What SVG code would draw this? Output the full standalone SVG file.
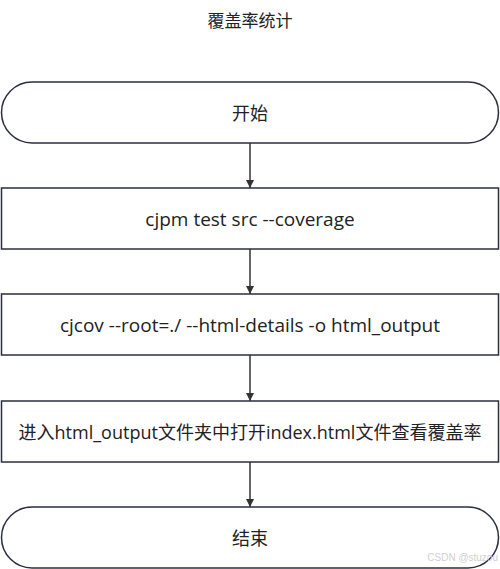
<svg xmlns="http://www.w3.org/2000/svg" width="500" height="569" viewBox="0 0 500 569">
<style>
.n{fill:#fff;stroke:#2b2f3f;stroke-width:1.5}
.t{font-family:"Open Sans","Noto Sans CJK SC",sans-serif;font-size:18px;fill:#222;text-anchor:middle;dominant-baseline:central}
.l{font-size:19px}
.e{stroke:#333;stroke-width:1.5;fill:none}
</style>
<defs>
<marker id="a" viewBox="0 0 10 10" refX="10" refY="5" markerWidth="8" markerHeight="8" markerUnits="userSpaceOnUse" orient="auto">
<path d="M0,0 L10,5 L0,10 z" fill="#333"/>
</marker>
</defs>
<rect width="500" height="569" fill="#fff"/>
<text id="title" class="t" x="250" y="20" style="font-size:17px">覆盖率统计</text>
<g id="n1"><rect class="n" x="1.5" y="82" width="497" height="61" rx="30.5"/><text class="t" x="250" y="113">开始</text></g>
<g id="n2"><rect class="n" x="1.5" y="188" width="497" height="61"/><text class="t l" x="250" y="218.5">cjpm test src --coverage</text></g>
<g id="n3"><rect class="n" x="1.5" y="294" width="497" height="61"/><text class="t l" x="250" y="325">cjcov --root=./ --html-details -o html_output</text></g>
<g id="n4"><rect class="n" x="1.5" y="401" width="497" height="61"/><text class="t" x="250" y="432">进入html_output文件夹中打开index.html文件查看覆盖率</text></g>
<g id="n5"><rect class="n" x="1.5" y="507" width="497" height="61" rx="30.5"/><text class="t" x="250" y="538">结束</text></g>
<g id="edges">
<line class="e" x1="250" y1="143" x2="250" y2="188" marker-end="url(#a)"/>
<line class="e" x1="250" y1="249" x2="250" y2="294" marker-end="url(#a)"/>
<line class="e" x1="250" y1="355" x2="250" y2="401" marker-end="url(#a)"/>
<line class="e" x1="250" y1="462" x2="250" y2="507" marker-end="url(#a)"/>
</g>
<text x="498" y="561" style="font-family:'Liberation Sans',sans-serif;font-size:10px;fill:#d0d0d0;text-anchor:end">CSDN @stuzou</text>
</svg>
